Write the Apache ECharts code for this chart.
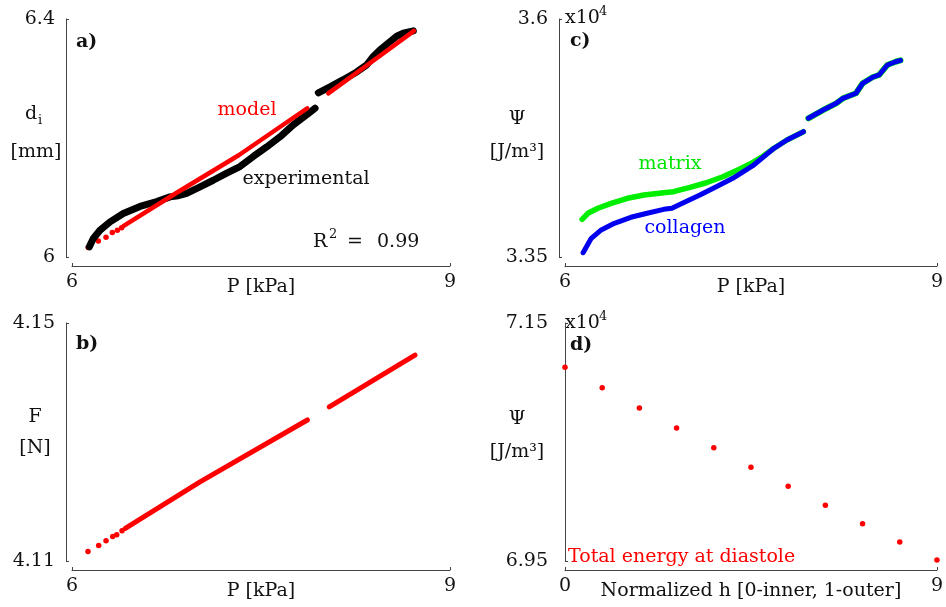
<!DOCTYPE html>
<html>
<head>
<meta charset="UTF-8">
<title>P - d - F - Psi</title>
<script src="https://cdn.jsdelivr.net/npm/echarts@6/dist/echarts.min.js"></script>
</head>
<body style="margin:0;background:#fff">
<div id="chart" style="width:946px;height:607px;"></div>
<script>
// a) inner diameter [mm] vs pressure [kPa]
var expP1 = [6.137, 6.169, 6.222, 6.302, 6.407, 6.540, 6.672, 6.778, 6.844, 6.910, 7.016, 7.121, 7.228, 7.333, 7.439, 7.545, 7.651, 7.756, 7.863, 7.929];
var expD1 = [6.017, 6.031, 6.045, 6.059, 6.073, 6.085, 6.093, 6.101, 6.103, 6.107, 6.118, 6.129, 6.141, 6.152, 6.169, 6.185, 6.202, 6.222, 6.239, 6.250];
var expP2 = [7.955, 8.048, 8.153, 8.260, 8.339, 8.391, 8.444, 8.524, 8.577, 8.629, 8.709];
var expD2 = [6.276, 6.286, 6.298, 6.311, 6.323, 6.337, 6.348, 6.362, 6.371, 6.376, 6.380];
var modP0 = [6.129, 6.209, 6.270, 6.320, 6.360, 6.394];   // sparse first dots
var modD0 = [6.016, 6.027, 6.033, 6.041, 6.045, 6.049];
var modP1 = [6.407, 6.831, 7.323, 7.867];
var modD1 = [6.052, 6.108, 6.171, 6.250];
var modP2 = [8.034, 8.418, 8.714];
var modD2 = [6.275, 6.334, 6.380];

// b) force [N] vs pressure
var fP0 = [6.127, 6.212, 6.270, 6.323, 6.355, 6.397];
var fF0 = [4.1116, 4.1126, 4.1134, 4.1141, 4.1144, 4.1151];
var fP1 = [6.423, 7.016, 7.868];
var fF1 = [4.1155, 4.1233, 4.1337];
var fP2 = [8.042, 8.722];
var fF2 = [4.1359, 4.1446];

// c) strain energy (x10^4 J/m3) vs pressure
var matP = [6.138, 6.185, 6.265, 6.372, 6.504, 6.637, 6.796, 6.875, 7.008, 7.140, 7.273, 7.406, 7.512, 7.599, 7.685, 7.790, 7.923];
var matPsi = [3.3896, 3.3959, 3.4012, 3.4064, 3.4117, 3.4151, 3.4175, 3.4186, 3.4232, 3.4280, 3.4343, 3.4421, 3.4491, 3.4560, 3.4642, 3.4729, 3.4816];
var colP1 = [6.146, 6.173, 6.212, 6.292, 6.398, 6.531, 6.663, 6.796, 6.862, 6.955, 7.088, 7.220, 7.353, 7.512, 7.685, 7.790, 7.923];
var colPsi1 = [3.3545, 3.3608, 3.3696, 3.3784, 3.3854, 3.3917, 3.3959, 3.4001, 3.4012, 3.4070, 3.4151, 3.4238, 3.4327, 3.4456, 3.4642, 3.4729, 3.4816];
var colP2 = [7.963, 8.082, 8.188, 8.242, 8.347, 8.401, 8.480, 8.533, 8.600, 8.666, 8.706];
var colPsi2 = [3.4957, 3.5044, 3.5114, 3.5167, 3.5220, 3.5325, 3.5388, 3.5412, 3.5517, 3.5551, 3.5566];

// d) total energy at diastole (x10^4 J/m3) across the wall
var hPos = [0, 0.9, 1.8, 2.7, 3.6, 4.5, 5.4, 6.3, 7.2, 8.1, 9];
var psiTot = [7.1128, 7.0956, 7.0786, 7.0618, 7.0452, 7.0287, 7.0128, 6.9968, 6.9813, 6.9660, 6.9509];

function pairs(xs, ys) {
    return xs.map(function (x, i) { return [x, ys[i]]; });
}

var FONT = '"DejaVu Serif", serif';

function xAx(gi, min, max, name) {
    return {
        gridIndex: gi, type: 'value', min: min, max: max, interval: max - min,
        offset: 9,
        name: name, nameLocation: 'middle', nameGap: 12, nameMoveOverlap: false,
        nameTextStyle: {fontFamily: FONT, fontSize: 19, color: '#111', verticalAlign: 'top'},
        axisLine: {lineStyle: {color: '#444', width: 1}},
        axisTick: {inside: true, length: 3, lineStyle: {color: '#444'}},
        axisLabel: {margin: 7, fontFamily: FONT, fontSize: 19, color: '#111'},
        splitLine: {show: false}
    };
}
function yAx(gi, min, max) {
    return {
        gridIndex: gi, type: 'value', min: min, max: max,
        offset: 6,
        axisLine: {show: true, lineStyle: {color: '#444', width: 1}},
        axisTick: {show: true, inside: true, length: 3, customValues: [min, max], lineStyle: {color: '#444'}},
        axisLabel: {margin: 11, fontFamily: FONT, fontSize: 19, color: '#111', customValues: [min, max]},
        splitLine: {show: false}
    };
}
function lineS(gi, data, color, w) {
    return {type: 'line', xAxisIndex: gi, yAxisIndex: gi, data: data, showSymbol: false, silent: true,
        lineStyle: {color: color, width: w, cap: 'round', join: 'round'}};
}
function dotS(gi, data, color, size) {
    return {type: 'scatter', xAxisIndex: gi, yAxisIndex: gi, data: data, symbolSize: size, clip: false, silent: true,
        itemStyle: {color: color, opacity: 1}};
}
function txt(x, y, s, color, size, extra) {
    var st = {text: s, fill: color || '#111', font: (extra && extra.bold ? 'bold ' : '') + (size || 19) + 'px ' + FONT,
        textAlign: (extra && extra.align) || 'left', textVerticalAlign: 'middle'};
    return {type: 'text', x: x, y: y, style: st, silent: true};
}

var myChart = echarts.init(document.getElementById('chart'));

var option = {
    animation: false,
    grid: [
        {left: 72, top: 19, width: 378, height: 238},
        {left: 72, top: 323, width: 378, height: 238},
        {left: 565, top: 19, width: 377, height: 238},
        {left: 565, top: 323, width: 377, height: 238}
    ],
    xAxis: [
        xAx(0, 6, 9, 'P [kPa]'),
        xAx(1, 6, 9, 'P [kPa]'),
        xAx(2, 6, 9, 'P [kPa]'),
        xAx(3, 0, 9, 'Normalized h [0-inner, 1-outer]')
    ],
    yAxis: [
        yAx(0, 6, 6.4),
        yAx(1, 4.11, 4.15),
        yAx(2, 3.35, 3.6),
        yAx(3, 6.95, 7.15)
    ],
    series: [
        lineS(0, pairs(expP1, expD1), '#000', 7),
        lineS(0, pairs(expP2, expD2), '#000', 7),
        dotS(0, pairs(modP0, modD0), '#ff0000', 5.5),
        lineS(0, pairs(modP1, modD1), '#ff0000', 4.5),
        lineS(0, pairs(modP2, modD2), '#ff0000', 4.5),

        dotS(1, pairs(fP0, fF0), '#ff0000', 5.5),
        lineS(1, pairs(fP1, fF1), '#ff0000', 5),
        lineS(1, pairs(fP2, fF2), '#ff0000', 5),

        lineS(2, pairs(matP, matPsi), '#00ee00', 5.5),
        lineS(2, pairs(colP2, colPsi2), '#00ee00', 6),
        lineS(2, pairs(colP1, colPsi1), '#0000ee', 5),
        lineS(2, pairs(colP2, colPsi2), '#0000ee', 5),

        dotS(3, pairs(hPos, psiTot), '#ff0000', 5.5)
    ],
    graphic: [
        // a)
        txt(76, 42, 'a)', '#111', 19, {bold: true}),
        txt(31, 114, 'd', '#111', 19, {align: 'center'}),
        txt(40, 121, 'i', '#111', 13, {align: 'center'}),
        txt(36, 152, '[mm]', '#111', 19, {align: 'center'}),
        txt(247, 110, 'model', '#ff0000', 19, {align: 'center'}),
        txt(306, 179, 'experimental', '#111', 19, {align: 'center'}),
        txt(313, 242, 'R', '#111', 19),
        txt(329, 235, '2', '#111', 13),
        txt(347, 242, '=', '#111', 19),
        txt(377, 242, '0.99', '#111', 19),
        // b)
        txt(76, 344, 'b)', '#111', 19, {bold: true}),
        txt(35, 417, 'F', '#111', 19, {align: 'center'}),
        txt(35, 448, '[N]', '#111', 19, {align: 'center'}),
        // c)
        txt(565, 18, 'x10', '#111', 19),
        txt(599, 12, '4', '#111', 13),
        txt(570, 41, 'c)', '#111', 19, {bold: true}),
        txt(517, 119, '\u03A8', '#111', 19, {align: 'center'}),
        txt(517, 152, '[J/m\u00B3]', '#111', 19, {align: 'center'}),
        txt(670, 164, 'matrix', '#00e600', 19, {align: 'center'}),
        txt(685, 228, 'collagen', '#0000ff', 19, {align: 'center'}),
        // d)
        txt(565, 323, 'x10', '#111', 19),
        txt(599, 317, '4', '#111', 13),
        txt(570, 345, 'd)', '#111', 19, {bold: true}),
        txt(517, 419, '\u03A8', '#111', 19, {align: 'center'}),
        txt(517, 452, '[J/m\u00B3]', '#111', 19, {align: 'center'}),
        txt(568, 557, 'Total energy at diastole', '#ff0000', 19)
    ]
};

myChart.setOption(option);
</script>
</body>
</html>
